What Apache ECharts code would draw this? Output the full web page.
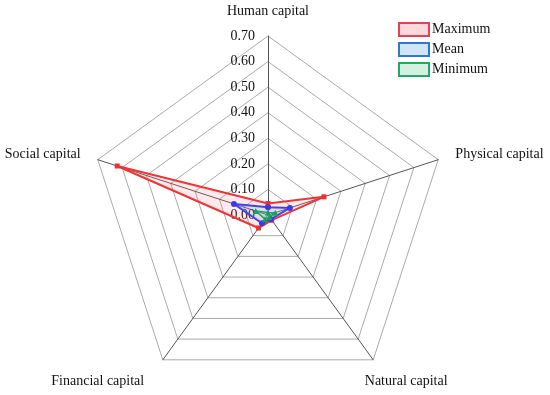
<!DOCTYPE html>
<html>
<head>
<meta charset="utf-8">
<script src="https://cdn.jsdelivr.net/npm/echarts@6/dist/echarts.min.js"></script>
<style>html,body{margin:0;padding:0;background:#fff}#c{width:550px;height:395px}</style>
</head>
<body>
<div id="c"></div>
<script>
// Clockwise from top, as in the figure
const indicators = ['Human capital', 'Physical capital', 'Natural capital', 'Financial capital', 'Social capital'];
const maximumValues = [0.045, 0.23, 0.025, 0.063, 0.62];
const meanValues = [0.03, 0.09, 0.02, 0.04, 0.14];
const minimumValues = [0.01, 0.03, 0.01, 0.02, 0.05];
const seriesNames = ['Maximum', 'Mean', 'Minimum'];
const axisMax = 0.7;
const axisInterval = 0.1;

// ECharts lays radar indicators out counter-clockwise; reorder to get clockwise
const ecOrder = [0, 4, 3, 2, 1];
const reorder = arr => ecOrder.map(i => arr[i]);

const font = 'Liberation Serif';
const chart = echarts.init(document.getElementById('c'));
const colors = {
  Maximum: {line: '#ee3030', fill: 'rgba(255,110,120,0.22)'},
  Mean: {line: '#3a3ae8', fill: 'rgba(110,160,230,0.30)'},
  Minimum: {line: '#18a060', fill: 'rgba(80,190,130,0.25)'}
};
const legendColors = {
  Maximum: {border: '#e84050', fill: '#fdd8dc'},
  Mean: {border: '#2f78d0', fill: '#d4e4f8'},
  Minimum: {border: '#20a868', fill: '#d4f0e0'}
};
const nameStyleKey = {
  'Human capital': 'n', 'Physical capital': 'n', 'Social capital': 'n',
  'Natural capital': 'nat', 'Financial capital': 'fin'
};
chart.setOption({
  animation: false,
  textStyle: {fontFamily: font},
  legend: {
    orient: 'vertical', left: 393, top: 17,
    itemWidth: 30, itemHeight: 13, itemGap: 5,
    textStyle: {fontFamily: font, fontSize: 14, color: '#111', padding: [0, 0, 0, -2]},
    data: seriesNames.map(n => ({
      name: n, icon: 'rect',
      itemStyle: {color: legendColors[n].fill, borderColor: legendColors[n].border, borderWidth: 2}
    }))
  },
  radar: {
    center: [268, 215],
    radius: 179,
    startAngle: 90,
    splitNumber: 7,
    shape: 'polygon',
    axisName: {
      color: '#111', fontFamily: font, fontSize: 14,
      formatter: name => '{' + nameStyleKey[name] + '|' + name + '}',
      rich: {
        n: {color: '#111', fontFamily: font, fontSize: 14},
        nat: {color: '#111', fontFamily: font, fontSize: 14, padding: [13, 0, 0, -19]},
        fin: {color: '#111', fontFamily: font, fontSize: 14, padding: [13, 8, 0, 0]}
      }
    },
    nameGap: 18,
    axisLine: {lineStyle: {color: '#555', width: 1}},
    splitLine: {lineStyle: {color: '#aaa', width: 1}},
    splitArea: {show: false},
    axisTick: {show: false},
    axisLabel: {show: false},
    indicator: reorder(indicators).map((n, i) => {
      const o = {name: n, min: 0, max: axisMax, interval: axisInterval};
      if (i === 0) {
        o.axisLabel = {show: true, color: '#111', fontFamily: font, fontSize: 14, margin: 13,
          formatter: v => Number(v).toFixed(2)};
      }
      return o;
    })
  },
  series: [{
    type: 'radar',
    data: [
      {name: 'Maximum', value: reorder(maximumValues), symbol: 'rect', symbolSize: 5,
        lineStyle: {color: colors.Maximum.line, width: 2},
        itemStyle: {color: colors.Maximum.line},
        areaStyle: {color: colors.Maximum.fill}},
      {name: 'Mean', value: reorder(meanValues), symbol: 'circle', symbolSize: 6,
        lineStyle: {color: colors.Mean.line, width: 2},
        itemStyle: {color: colors.Mean.line},
        areaStyle: {color: colors.Mean.fill}},
      {name: 'Minimum', value: reorder(minimumValues), symbol: 'triangle', symbolSize: 6,
        lineStyle: {color: colors.Minimum.line, width: 1.5},
        itemStyle: {color: colors.Minimum.line},
        areaStyle: {color: colors.Minimum.fill}}
    ]
  }]
});
</script>
</body>
</html>
